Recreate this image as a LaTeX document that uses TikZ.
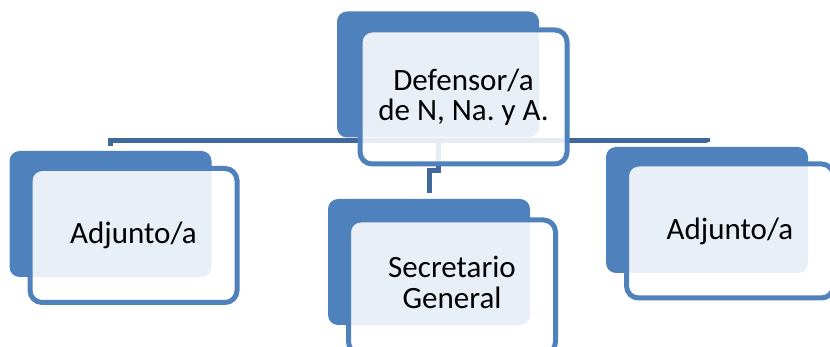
\documentclass[tikz,border=0pt]{standalone}
\usepackage{fontspec}
\setmainfont{Carlito}
\usepackage{tikz}
\pgfdeclarelayer{background}
\pgfdeclarelayer{foreground}
\pgfsetlayers{background,main,foreground}
\definecolor{boxblue}{RGB}{79,129,189}
\definecolor{lineblue}{RGB}{64,104,154}
\tikzset{
  backbox/.style={rectangle, rounded corners=10pt, fill=boxblue, minimum width=202pt, minimum height=126pt, inner sep=0pt},
  frontbox/.style={rectangle, rounded corners=12pt, draw=boxblue, line width=5pt, fill=white, fill opacity=0.88, text opacity=1, minimum width=207pt, minimum height=134pt, inner sep=0pt, align=center, font=\fontsize{31}{30}\selectfont},
  link/.style={draw=lineblue, line width=5pt}
}
\begin{document}
\begin{tikzpicture}[x=1pt,y=-1pt]
\useasboundingbox (0,0) rectangle (830,347);
\node[backbox] (topback) at (438,74.5) {};
\node[backbox] (leftback) at (110.5,214) {};
\node[backbox] (midback) at (429,262) {};
\node[backbox] (rightback) at (707,210) {};
\begin{pgfonlayer}{background}
\draw[link] (topback.south) -- ++(0,3) -| ([yshift=5pt]leftback.north);
\draw[link] (topback.south) -- ++(0,3) -| ([yshift=5pt]rightback.north);
\draw[link] (topback.south) -- ++(0,33) -| ([yshift=6pt]midback.north);
\end{pgfonlayer}
\begin{pgfonlayer}{foreground}
\node[frontbox] (topfront) at (463.5,97) {Defensor/a\\de N, Na.\ y A.};
\node[frontbox] (leftfront) at (133.5,235.5) {Adjunto/a};
\node[frontbox] (midfront) at (452,287) {\raisebox{3pt}{\begin{tabular}{@{}c@{}}Secretario\\General\end{tabular}}};
\node[frontbox] (rightfront) at (730,231) {Adjunto/a};
\end{pgfonlayer}
\end{tikzpicture}
\end{document}
